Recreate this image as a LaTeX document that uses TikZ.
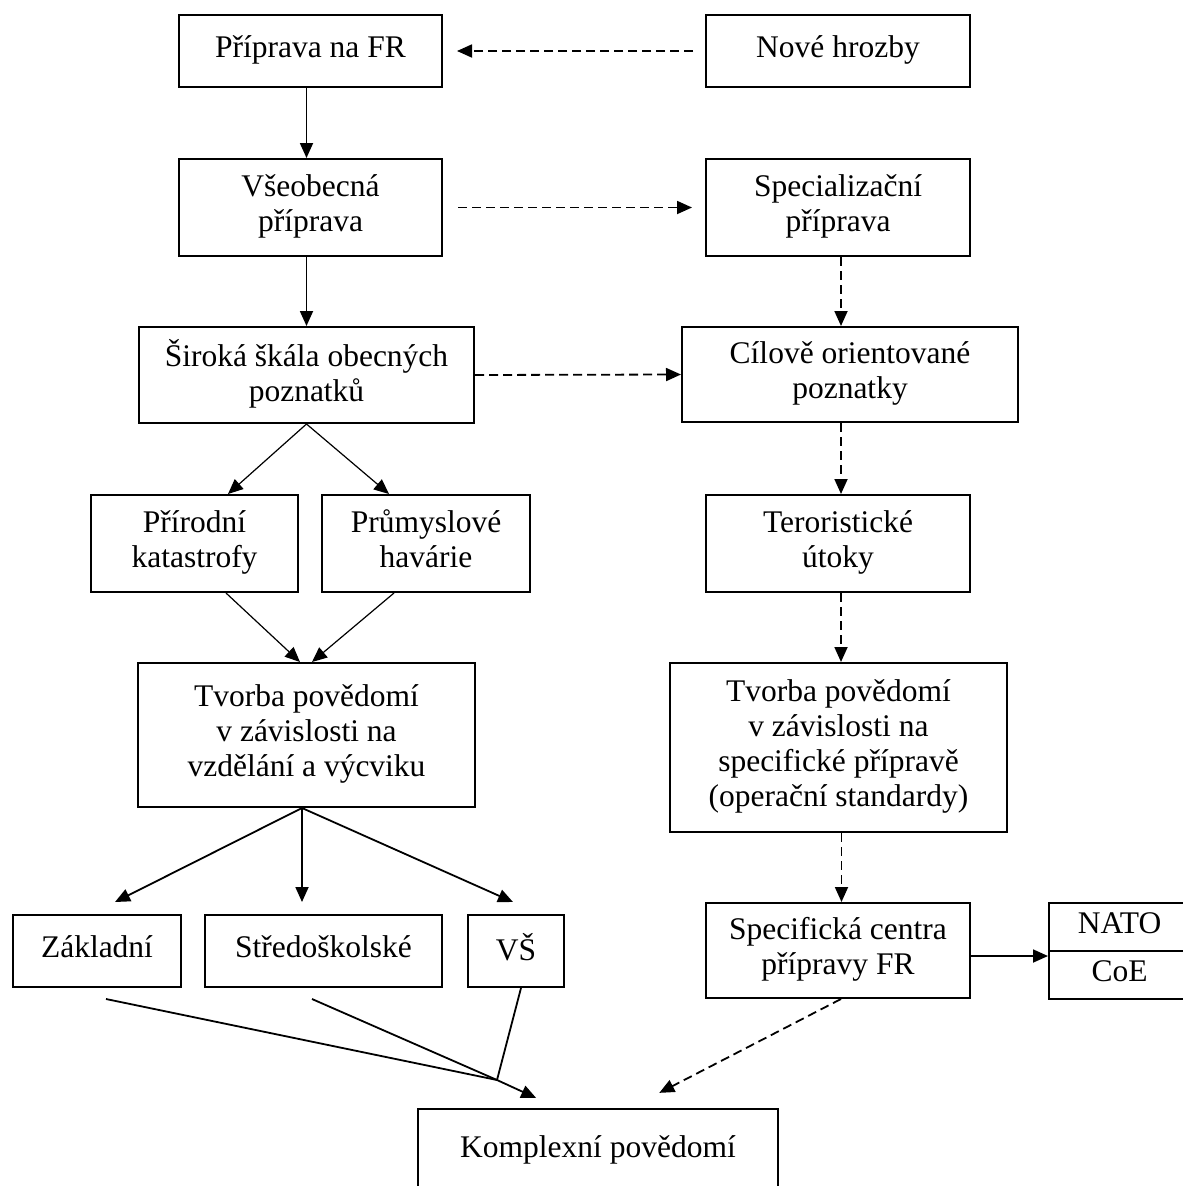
\documentclass[tikz,border=0pt]{standalone}
\usepackage{fontspec}
\setmainfont{Liberation Serif}
\usetikzlibrary{arrows.meta}
\newcommand{\boxstrut}{\rule[-9pt]{0pt}{31pt}}
\newcommand{\boxstart}{\lineskiplimit=-40pt\relax\boxstrut}
\begin{document}
\begin{tikzpicture}[x=1pt,y=-1pt,
  box/.style={draw, line width=2pt, inner sep=0pt, align=center,
    font=\fontsize{31.5}{35}\selectfont,
    execute at begin node=\boxstart, execute at end node=\boxstrut},
  arr/.style={line width=1.8pt, -{Triangle[length=15pt,width=13pt]}},
  thinarr/.style={arr, line width=1.2pt},
  darr/.style={arr, dash pattern=on 9pt off 5pt},
  ln/.style={line width=1.8pt}
]
\useasboundingbox[fill=white] (0,0) rectangle (1183,1186);

\node[box, minimum width=263, minimum height=72] (A) at (310.5,51) {Příprava na FR};
\node[box, minimum width=264, minimum height=72] (B) at (838,51) {Nové hrozby};
\node[box, minimum width=263, minimum height=97] (C) at (310.5,207.5) {Všeobecná\\příprava};
\node[box, minimum width=264, minimum height=97] (D) at (838,207.5) {Specializační\\příprava};
\node[box, minimum width=335, minimum height=96] (E) at (306.5,375) {Široká škála obecných\\poznatků};
\node[box, minimum width=336, minimum height=95] (F) at (850,374.5) {Cílově orientované\\poznatky};
\node[box, minimum width=207, minimum height=97] (G) at (194.5,543.5) {Přírodní\\katastrofy};
\node[box, minimum width=208, minimum height=97] (H) at (426,543.5) {Průmyslové\\havárie};
\node[box, minimum width=264, minimum height=97] (I) at (838,543.5) {Teroristické\\útoky};
\node[box, minimum width=337, minimum height=144] (J) at (306.5,735) {Tvorba povědomí\\v závislosti na\\vzdělání a výcviku};
\node[box, minimum width=337, minimum height=169] (K) at (838.5,747.5) {Tvorba povědomí\\v závislosti na\\specifické přípravě\\(operační standardy)};
\node[box, minimum width=168, minimum height=72] (L) at (97,951) {Základní};
\node[box, minimum width=237, minimum height=72] (M) at (323.5,951) {Středoškolské};
\node[box, minimum width=96, minimum height=72] (N) at (516,951) {VŠ};
\node[box, minimum width=264, minimum height=95] (O) at (838,950.5) {Specifická centra\\přípravy FR};
\node[box, minimum width=141, minimum height=48] (nato) at (1119.5,927) {NATO};
\node[box, minimum width=141, minimum height=48] (coe) at (1119.5,975) {CoE};
\node[box, minimum width=360, text height=48pt, text depth=40pt, anchor=north,
  execute at begin node={}, execute at end node={}] (Q) at (598,1108) {Komplexní povědomí};

\draw[darr, shorten <=12pt, shorten >=14pt] (B.west) -- (A.east);
\draw[arr] ([xshift=-4pt]A.south) -- ([xshift=-4pt]C.north);
\draw[darr, shorten <=15pt, shorten >=13pt] (C.east) -- (D.west);
\draw[arr] ([xshift=-4pt]C.south) -- (E.north);
\draw[darr] ([xshift=3pt]D.south) -- ([xshift=3pt]D.south |- F.north);
\draw[darr] (E.east) -- (F.west);
\draw[thinarr] (E.south) -- ([xshift=33.5pt]G.north);
\draw[thinarr] (E.south) -- ([xshift=-37pt]H.north);
\draw[darr] ([xshift=3pt]I.north |- F.south) -- ([xshift=3pt]I.north);
\draw[thinarr] ([xshift=31.5pt]G.south) -- ([xshift=-6.5pt]J.north);
\draw[thinarr] ([xshift=-32pt]H.south) -- ([xshift=5.5pt]J.north);
\draw[darr] ([xshift=3pt]I.south) -- ([xshift=3pt]I.south |- K.north);
\draw[arr] ([xshift=-4.5pt]J.south) -- ([xshift=18pt,yshift=12pt]L.north);
\draw[arr] ([xshift=-4.5pt]J.south) -- ([xshift=-21.5pt,yshift=12pt]M.north);
\draw[arr] ([xshift=-4.5pt]J.south) -- ([xshift=-3pt,yshift=12pt]N.north);
\draw[darr] ([xshift=3pt]K.south) -- ([xshift=3pt]K.south |- O.north);
\draw[arr] ([yshift=-5.5pt]O.east) -- ([yshift=-5.5pt]O.east -| nato.west);

\coordinate (jn) at (497,1080);
\draw[ln] ([xshift=9pt,yshift=-11pt]L.south) -- (jn);
\draw[ln] ([xshift=-11.5pt,yshift=-11pt]M.south) -- (jn);
\draw[ln] ([xshift=5pt]N.south) -- (jn);
\draw[arr, shorten >=24pt] (jn) -- ([xshift=141pt]Q.north west);
\draw[darr, shorten >=33pt] ([xshift=3pt]O.south) -- ([xshift=213pt]Q.north west);
\end{tikzpicture}
\end{document}
